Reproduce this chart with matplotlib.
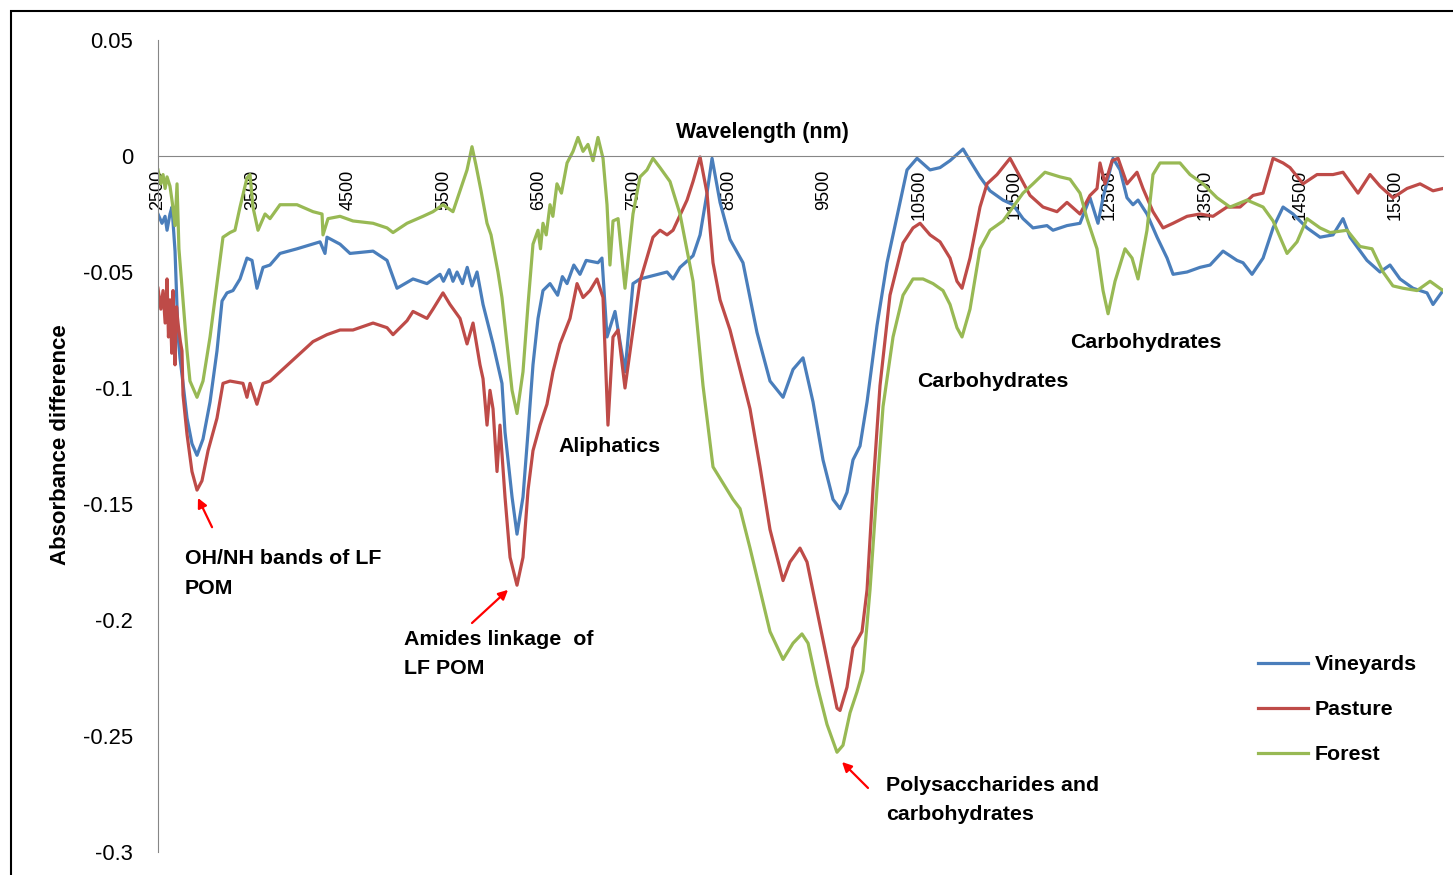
import matplotlib
matplotlib.use("Agg")
import matplotlib.pyplot as plt
from matplotlib.patches import Rectangle

plt.rcParams['font.family'] = ['Liberation Sans', 'DejaVu Sans']

# ---- data ----
vine_wl = [2500, 2542, 2574, 2595, 2626, 2647, 2679, 2710, 2731, 2763, 2805, 2857, 2910, 2973,
           3047, 3120, 3173, 3225, 3288, 3362, 3435, 3488, 3540, 3604, 3677, 3782, 3961, 4203,
           4255, 4276, 4413, 4518, 4760, 4907, 5012, 5180, 5327, 5464, 5500, 5560, 5600, 5643,
           5700, 5750, 5800, 5853, 5916,
           6021, 6115, 6147, 6221, 6273, 6336, 6389, 6441, 6494, 6546, 6620, 6700, 6750, 6799,
           6870, 6935, 7000, 7124,
           7166, 7219, 7303, 7408, 7492, 7566, 7850, 7913, 7986, 8123, 8197, 8270, 8323, 8407,
           8512, 8648, 8795, 8932, 9069, 9174, 9279, 9384, 9489, 9594, 9668, 9741, 9804, 9878,
           9952, 10057, 10162, 10298, 10372, 10477, 10614, 10719, 10824, 10961, 11034, 11139,
           11244, 11381, 11486, 11591, 11696, 11843, 11906, 12053, 12190, 12295, 12379, 12432,
           12537, 12611, 12684, 12747, 12800, 12894, 13000, 13105, 13168, 13315, 13451, 13557,
           13693, 13840, 13903, 13998, 14114, 14219, 14324, 14429, 14576, 14713, 14849, 14954,
           15028, 15206, 15343, 15448, 15553, 15690, 15837, 15900, 16005]
vineyards = [-0.025, -0.029, -0.026, -0.032, -0.025, -0.022, -0.041, -0.077, -0.087, -0.098,
             -0.113, -0.124, -0.129, -0.122, -0.106, -0.084, -0.0625, -0.059, -0.058, -0.053,
             -0.044, -0.045, -0.057, -0.048, -0.047, -0.042, -0.040, -0.037, -0.042, -0.035,
             -0.038, -0.042, -0.041, -0.045, -0.057, -0.053, -0.055, -0.051, -0.054, -0.049,
             -0.054, -0.050, -0.055, -0.048, -0.056, -0.050, -0.064,
             -0.081, -0.098, -0.119, -0.147, -0.163, -0.147, -0.119, -0.090,
             -0.070, -0.058, -0.055, -0.060, -0.052, -0.055, -0.047, -0.051, -0.045, -0.046,
             -0.044, -0.078, -0.067, -0.093,
             -0.055, -0.053, -0.050, -0.053, -0.048, -0.043, -0.034, -0.016, -0.001, -0.020,
             -0.036, -0.046, -0.076, -0.097, -0.104, -0.092, -0.087, -0.106, -0.131, -0.148,
             -0.152, -0.145, -0.131, -0.125, -0.106, -0.073, -0.046, -0.020, -0.006, -0.001,
             -0.006, -0.005, -0.002, 0.003, -0.002, -0.009, -0.015, -0.019, -0.021, -0.027,
             -0.031, -0.030, -0.032, -0.030, -0.029, -0.018, -0.029, -0.018, -0.001, -0.006,
             -0.018, -0.021, -0.019, -0.025, -0.035, -0.044, -0.051, -0.050, -0.048, -0.047,
             -0.041, -0.045, -0.046, -0.051, -0.044, -0.031, -0.022, -0.025, -0.031, -0.035,
             -0.034, -0.027, -0.035, -0.045, -0.050, -0.047, -0.053, -0.057, -0.059, -0.064,
             -0.058]

past_wl = [2500, 2530, 2553, 2575, 2595, 2610, 2626, 2645, 2658, 2679, 2695, 2710, 2735, 2752,
           2763, 2805, 2857, 2910, 2962, 3026,
           3120, 3183, 3257, 3393, 3435, 3467, 3540, 3604, 3677, 4129, 4276, 4413, 4549, 4760,
           4907, 4970, 5117, 5180, 5327, 5390, 5495, 5569, 5674, 5748, 5811, 5884, 5916, 5958,
           5989, 6021, 6063, 6094, 6147, 6200, 6273, 6336, 6389, 6441, 6515, 6588, 6651, 6725,
           6830, 6904, 6967, 7040, 7114, 7177, 7229, 7282, 7335, 7408, 7482, 7566, 7702, 7776,
           7850, 7913, 8060, 8123, 8197, 8270, 8333, 8407, 8512, 8617, 8722, 8827, 8932, 9069,
           9142, 9247, 9321, 9426, 9531, 9636, 9668, 9741, 9804, 9899, 9952, 10015, 10088,
           10193, 10330, 10435, 10509, 10614, 10719, 10824, 10897, 10950, 11034, 11139, 11213,
           11318, 11455, 11560, 11665, 11801, 11948, 12053, 12190, 12295, 12369, 12400, 12453,
           12527, 12590, 12684, 12789, 12852, 12957, 13063, 13168, 13315, 13451, 13588, 13735,
           13872, 14008, 14114, 14219, 14324, 14397, 14534, 14681, 14849, 14954, 15112, 15238,
           15343, 15479, 15627, 15764, 15900, 16005]
pasture = [-0.057, -0.066, -0.058, -0.072, -0.053, -0.078, -0.062, -0.085, -0.058, -0.090,
           -0.065, -0.072, -0.080, -0.084,
           -0.103, -0.120, -0.136, -0.144, -0.140, -0.127,
           -0.113, -0.098, -0.097, -0.098, -0.104, -0.098,
           -0.107, -0.098, -0.097, -0.080, -0.077, -0.075, -0.075, -0.072, -0.074, -0.077,
           -0.071, -0.067, -0.070, -0.066, -0.059, -0.064, -0.070, -0.081, -0.072, -0.090,
           -0.096, -0.116, -0.101, -0.109, -0.136, -0.116, -0.147, -0.173, -0.185, -0.173,
           -0.144, -0.127, -0.116, -0.107, -0.093, -0.081, -0.070, -0.055, -0.061, -0.058,
           -0.053, -0.061, -0.116, -0.078, -0.075, -0.100, -0.078, -0.054, -0.035, -0.032,
           -0.034, -0.032, -0.019, -0.011, -0.0004, -0.016, -0.046, -0.062, -0.075, -0.092,
           -0.109, -0.134, -0.161, -0.183, -0.175, -0.169, -0.175, -0.196, -0.217, -0.238,
           -0.239, -0.229, -0.212, -0.205, -0.187, -0.143, -0.099, -0.060, -0.0375, -0.031,
           -0.029, -0.034, -0.037, -0.044, -0.054, -0.057, -0.044, -0.022, -0.012, -0.008,
           -0.001, -0.009, -0.017, -0.022, -0.024, -0.020, -0.025, -0.017, -0.014, -0.003,
           -0.012, -0.002, -0.001, -0.012, -0.007, -0.014, -0.024, -0.031, -0.029, -0.026,
           -0.025, -0.026, -0.022, -0.022, -0.017, -0.016, -0.001, -0.003, -0.005, -0.012,
           -0.008, -0.008, -0.007, -0.016, -0.008, -0.013, -0.018, -0.014, -0.012, -0.015,
           -0.014]

for_wl = [2500, 2530, 2553, 2575, 2595, 2626, 2650, 2679, 2700, 2720, 2763, 2805, 2836, 2910,
          2973, 3047,
          3120, 3183, 3257, 3309, 3362, 3435, 3467, 3498, 3551, 3625, 3677, 3782, 3961, 4129,
          4224, 4234, 4287, 4413, 4549, 4760, 4907, 4970, 5117, 5285, 5390, 5495, 5600, 5674,
          5748, 5800, 5842, 5895, 5958, 6000, 6073, 6115, 6168, 6221, 6273, 6336, 6389, 6441,
          6494, 6520, 6546, 6580, 6620, 6650, 6693, 6740, 6799, 6862, 6914, 6967, 7019, 7072,
          7124, 7177, 7219, 7250,
          7282, 7335, 7408, 7492, 7566, 7639, 7702, 7776, 7881, 7986, 8123, 8228, 8333, 8438,
          8543, 8617, 8722, 8827, 8932, 9069, 9174, 9268, 9332, 9426, 9531, 9636, 9699, 9773,
          9846, 9909, 9983, 10057, 10120, 10225, 10330, 10435, 10540, 10645, 10750, 10824,
          10897, 10950, 11034, 11139, 11244, 11381, 11486, 11591, 11696, 11822, 11980, 12085,
          12190, 12264, 12369, 12432, 12485, 12558, 12663, 12737, 12800, 12894, 12957, 13031,
          13136, 13241, 13346, 13483, 13630, 13767, 13945, 14114, 14219, 14366, 14471, 14576,
          14713, 14818, 14997, 15133, 15259, 15375, 15479, 15585, 15732, 15869, 16005]
forest = [-0.006, -0.012, -0.008, -0.014, -0.009, -0.013, -0.020, -0.030, -0.012, -0.040,
          -0.0625, -0.084, -0.097, -0.104, -0.097, -0.078,
          -0.055, -0.035, -0.033, -0.032, -0.022, -0.0095,
          -0.008, -0.022, -0.032, -0.025, -0.027, -0.021, -0.021, -0.024, -0.025, -0.034,
          -0.027, -0.026, -0.028, -0.029, -0.031, -0.033, -0.029, -0.026, -0.024, -0.021,
          -0.024, -0.015, -0.006, 0.004, -0.004, -0.015, -0.029, -0.034, -0.050, -0.061,
          -0.081, -0.101, -0.111, -0.093, -0.064, -0.038, -0.032, -0.040, -0.029, -0.034,
          -0.021, -0.026, -0.012, -0.016, -0.003, 0.002, 0.008, 0.002, 0.005, -0.002,
          0.008, -0.001, -0.021, -0.047,
          -0.028, -0.027, -0.057, -0.025, -0.009, -0.006, -0.001, -0.005, -0.011, -0.025,
          -0.054, -0.099, -0.134, -0.141, -0.148, -0.152, -0.169, -0.187, -0.205, -0.217,
          -0.210, -0.206, -0.210, -0.228, -0.245, -0.257, -0.254, -0.240, -0.231, -0.222,
          -0.187, -0.143, -0.108, -0.078, -0.060, -0.053, -0.053, -0.055, -0.058, -0.064,
          -0.074, -0.078, -0.066, -0.040, -0.032, -0.028, -0.022, -0.016, -0.012, -0.007,
          -0.009, -0.010, -0.016, -0.027, -0.040, -0.058, -0.068, -0.054, -0.040, -0.044,
          -0.053, -0.032, -0.008, -0.003, -0.003, -0.003, -0.008, -0.012, -0.018, -0.022,
          -0.019, -0.022, -0.028, -0.042, -0.037, -0.027, -0.031, -0.033, -0.032, -0.039,
          -0.040, -0.050, -0.056, -0.057, -0.058, -0.054, -0.058]

series_names = ['Vineyards', 'Pasture', 'Forest']
series_colors = ['#4A7EBB', '#BE4B48', '#98B954']

y_ticks = [0.05, 0, -0.05, -0.1, -0.15, -0.2, -0.25, -0.3]
y_ticklabels = ['0.05', '0', '-0.05', '-0.1', '-0.15', '-0.2', '-0.25', '-0.3']
x_ticks = list(range(2500, 16000, 1000))

W, H = 1453, 875
fig = plt.figure(figsize=(W / 100, H / 100), dpi=100)

# outer chart border
fig.patches.append(Rectangle((11 / W, -0.02), 1.05, 1 - 11 / H + 0.02, transform=fig.transFigure,
                             fill=False, edgecolor='black', lw=1.5))

ax = fig.add_axes([158 / W, 1 - 852 / H, (1443 - 158) / W, (852 - 40) / H])

for wl, vals, name, col in zip([vine_wl, past_wl, for_wl], [vineyards, pasture, forest],
                               series_names, series_colors):
    ax.plot(wl, vals, color=col, lw=2.3, label=name, solid_joinstyle='round')

ax.set_xlim(2500, 16005)
ax.set_ylim(-0.3, 0.05)

for s in ['top', 'right']:
    ax.spines[s].set_visible(False)
ax.spines['bottom'].set_position(('data', 0))
ax.spines['bottom'].set_color('#868686')
ax.spines['left'].set_color('#868686')

ax.set_yticks(y_ticks)
ax.set_yticklabels(y_ticklabels, fontsize=15.8)
ax.tick_params(axis='y', length=0, pad=18)
ax.set_xticks(x_ticks)
ax.set_xticklabels([str(t) for t in x_ticks], rotation=90, fontsize=13)
ax.tick_params(axis='x', length=0, pad=10)

# axis titles
ax.text(8848, 0.0103, 'Wavelength (nm)', fontsize=15.5, fontweight='bold', ha='center', va='center')
fig.text(61 / W, 1 - 445 / H, 'Absorbance difference', fontsize=16, fontweight='bold',
         rotation=90, ha='center', va='center')

# annotations
lab = dict(fontsize=15.4, fontweight='bold', ha='left', va='center', linespacing=1.68)
arrow = dict(arrowstyle='-|>', color='red', lw=1.6, mutation_scale=14, shrinkA=0, shrinkB=0)
ax.text(2784, -0.180, 'OH/NH bands of LF\nPOM', **lab)
ax.annotate('', xy=(2920, -0.1474), xytext=(3068, -0.160), arrowprops=arrow)
ax.text(5085, -0.2147, 'Amides linkage  of\nLF POM', **lab)
ax.annotate('', xy=(6179, -0.187), xytext=(5800, -0.2013), arrowprops=arrow)
ax.text(6704, -0.125, 'Aliphatics', **lab)
ax.text(10477, -0.097, 'Carbohydrates', **lab)
ax.text(12085, -0.0806, 'Carbohydrates', **lab)
ax.text(10151, -0.2776, 'Polysaccharides and\ncarbohydrates', **lab)
ax.annotate('', xy=(9689, -0.2612), xytext=(9962, -0.2724), arrowprops=arrow)

leg = ax.legend(loc='upper left', bbox_to_anchor=(1258 / W, 1 - 655 / H),
                bbox_transform=fig.transFigure, frameon=False, borderpad=0, borderaxespad=0,
                handlelength=2.35, handletextpad=0.3, labelspacing=1.22,
                prop={'size': 15.4, 'weight': 'bold'})

fig.savefig('out.png', dpi=100)
